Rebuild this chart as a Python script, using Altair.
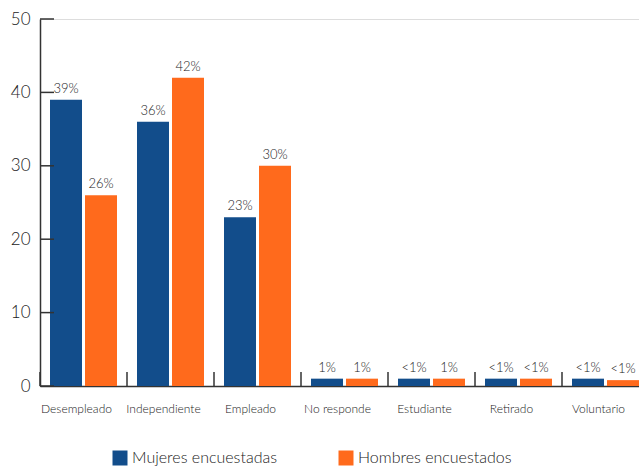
import altair as alt
import pandas as pd

categories = ["Desempleado", "Independiente", "Empleado", "No responde",
              "Estudiante", "Retirado", "Voluntario"]
series = ["Mujeres encuestadas", "Hombres encuestados"]
mujeres = [39, 36, 23, 1, 1, 1, 1]
hombres = [26, 42, 30, 1, 1, 1, 0.8]
mujeres_lbl = ["39%", "36%", "23%", "1%", "<1%", "<1%", "<1%"]
hombres_lbl = ["26%", "42%", "30%", "1%", "1%", "<1%", "<1%"]
colors = ["#124D8B", "#FF6A1C"]
y_ticks = [0, 10, 20, 30, 40, 50]

rows = []
for c, m, h, ml, hl in zip(categories, mujeres, hombres, mujeres_lbl, hombres_lbl):
    rows.append({"cat": c, "series": series[0], "value": m, "label": ml})
    rows.append({"cat": c, "series": series[1], "value": h, "label": hl})
df = pd.DataFrame(rows)
df_cats = pd.DataFrame({"cat": categories})
df_yt = pd.DataFrame({"v": y_ticks})

FONT = "Lato"
W = 300
TXT = "#222222"
AX = "#333333"
H = 367

x_enc = alt.X("cat:N", sort=categories,
              scale=alt.Scale(paddingInner=0, paddingOuter=0, range=[0, 609]),
              axis=alt.Axis(title=None, labelAngle=0, domain=True, domainColor=AX,
                            domainWidth=1.5, ticks=False, grid=False,
                            labelFontSize=12, labelFont=FONT, labelFontWeight=W,
                            labelColor=TXT, labelPadding=17, labelOverlap=False,
                            labelLimit=200, labelOffset=-7))
xo_enc = alt.XOffset("series:N", sort=series,
                     scale=alt.Scale(paddingInner=3 / 35, paddingOuter=10 / 35))
y_scale = alt.Scale(domain=[0, 50], nice=False, zero=True)
y_enc = alt.Y("value:Q", scale=y_scale,
              axis=alt.Axis(title=None, values=y_ticks, ticks=False, domain=True,
                            domainColor=AX, domainWidth=1.5, grid=False,
                            labelFontSize=17, labelFont=FONT, labelFontWeight=W,
                            labelColor=TXT, labelPadding=10))
color_enc = alt.Color("series:N", sort=series,
                      scale=alt.Scale(domain=series, range=colors),
                      legend=alt.Legend(title=None, orient="none", legendX=72, legendY=431,
                                        direction="horizontal", symbolType="square",
                                        symbolSize=225, symbolStrokeWidth=0,
                                        labelFontSize=16, labelFont=FONT,
                                        labelFontWeight=W,
                                        labelColor=TXT, columnPadding=61,
                                        labelOffset=4))

bars = alt.Chart(df).mark_bar().encode(x=x_enc, xOffset=xo_enc, y=y_enc, color=color_enc)

labels = alt.Chart(df).mark_text(baseline="bottom", dy=-4, fontSize=13, font=FONT,
                                 fontWeight=W, color=TXT).encode(
    x=alt.X("cat:N", sort=categories), xOffset=alt.XOffset("series:N", sort=series),
    y=alt.Y("value:Q"), text="label:N")

xticks = alt.Chart(df_cats).mark_rule(color=AX, strokeWidth=1.5).encode(
    x=alt.X("cat:N", sort=categories, bandPosition=0),
    y=alt.value(H), y2=alt.value(H - 14))

yticks = alt.Chart(df_yt).mark_rule(color=AX, strokeWidth=1.5).encode(
    y=alt.Y("v:Q", scale=y_scale), x=alt.value(0), x2=alt.value(14))

chart = alt.layer(bars, labels, xticks, yticks).properties(
    width=599, height=H,
    autosize=alt.AutoSizeParams(type="none"),
    padding={"left": 40, "top": 19, "right": 0, "bottom": 80},
).configure_view(stroke=None).configure(background="white")

chart.save("out.html", embed_options={"renderer": "svg", "actions": False})
